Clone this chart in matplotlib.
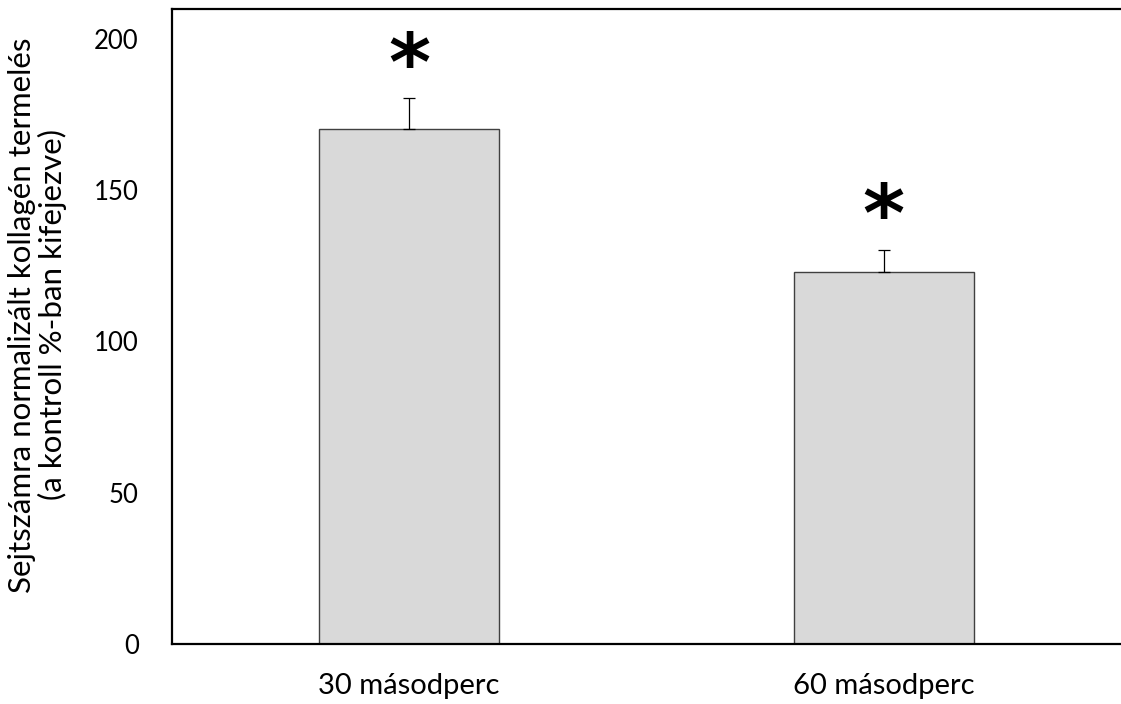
import matplotlib

matplotlib.use("Agg")
import matplotlib.pyplot as plt

categories = ["30 másodperc", "60 másodperc"]
values = [170.2, 123.0]
errors_upper = [10.1, 7.3]
significant = [True, True]

y_ticks = [0, 50, 100, 150, 200]
y_label = "Sejtszámra normalizált kollagén termelés\n(a kontroll %-ban kifejezve)"

plt.rcParams["font.family"] = ["Lato", "DejaVu Sans"]

fig = plt.figure(figsize=(11.21, 7.04), dpi=100)
ax = fig.add_axes([0.1534, 0.0852, 0.8466, 0.9027])

xs = list(range(len(categories)))
ax.bar(xs, values, width=0.38, color="#d9d9d9", edgecolor="#404040", linewidth=1.0, zorder=2)
ax.errorbar(
    xs,
    values,
    yerr=[[0] * len(values), errors_upper],
    fmt="none",
    ecolor="black",
    elinewidth=0.9,
    capsize=4.5,
    capthick=0.9,
    zorder=3,
)

# significance stars above the error bars
for x, v, e, sig in zip(xs, values, errors_upper, significant):
    if sig:
        ax.text(x, v + e + 10, "*", ha="center", va="center", fontsize=58,
                fontweight="bold", family="DejaVu Sans")

ax.set_xlim(-0.5, 1.5)
ax.set_ylim(0, 210)
ax.set_xticks(xs)
ax.set_xticklabels(categories)
ax.set_yticks(y_ticks)
ax.tick_params(axis="both", length=0)
ax.tick_params(axis="y", pad=24, labelsize=18.5)
ax.tick_params(axis="x", pad=21, labelsize=21)

ax.spines["right"].set_visible(False)
for side in ("left", "top", "bottom"):
    ax.spines[side].set_linewidth(1.6)
    ax.spines[side].set_color("black")

ax.set_ylabel(y_label, fontsize=22.5, linespacing=1.08)
ax.yaxis.set_label_coords(-0.111, 0.518)

fig.savefig("out.png", dpi=100)
